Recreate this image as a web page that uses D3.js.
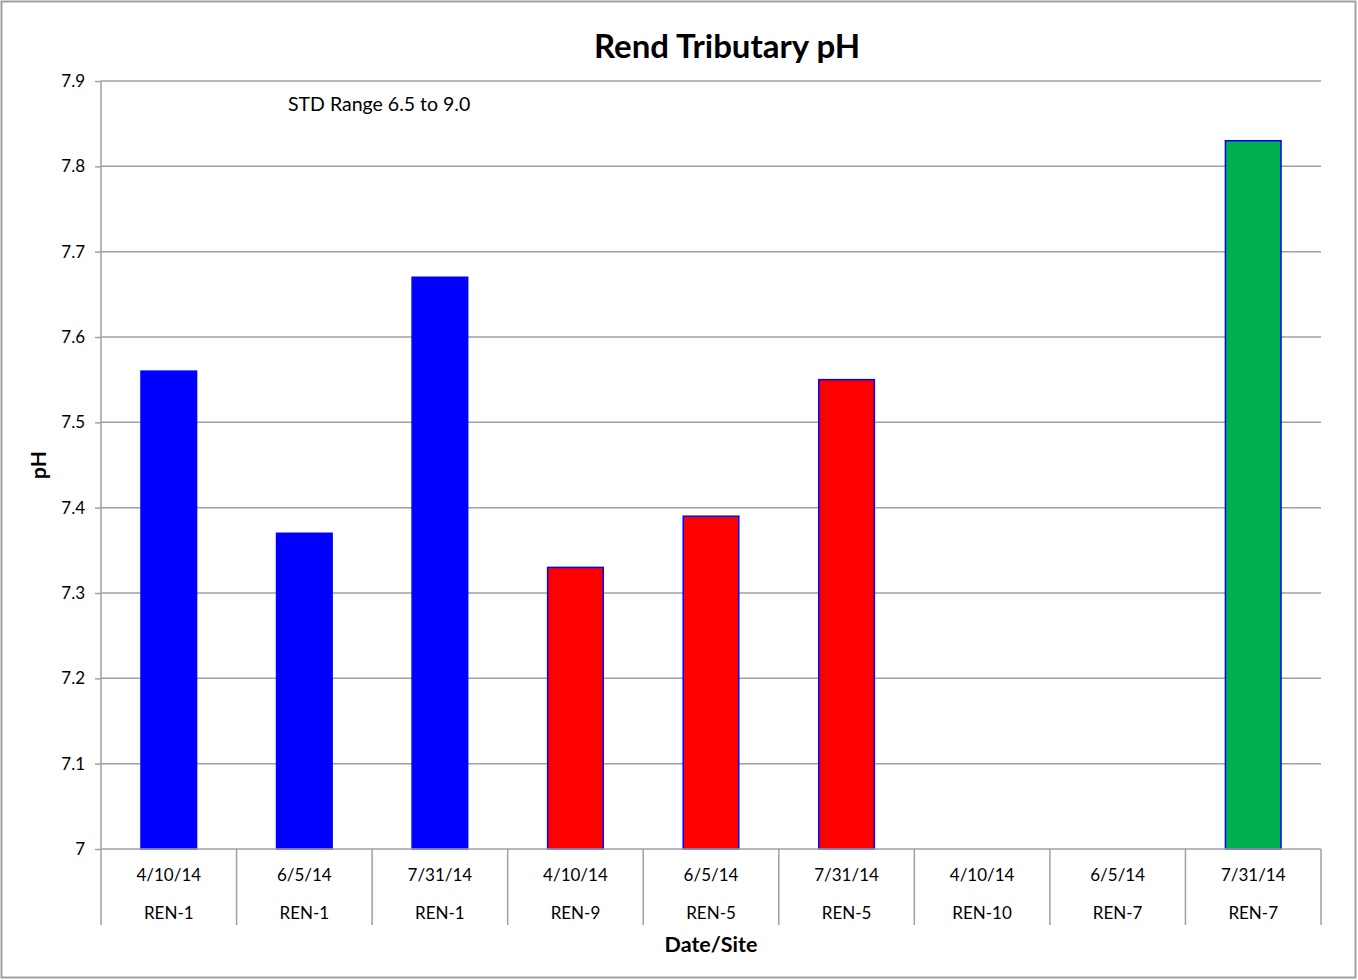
<!DOCTYPE html>
<html>
<head>
<meta charset="utf-8">
<script src="https://cdn.jsdelivr.net/npm/d3@7"></script>
<style>
  body { margin: 0; background: #fff; }
  text { font-family: Lato, "Open Sans", sans-serif; fill: #000; }
</style>
</head>
<body>
<div id="chart-area"></div>
<script>
const dates = ['4/10/14', '6/5/14', '7/31/14', '4/10/14', '6/5/14', '7/31/14', '4/10/14', '6/5/14', '7/31/14']
const sites = ['REN-1', 'REN-1', 'REN-1', 'REN-9', 'REN-5', 'REN-5', 'REN-10', 'REN-7', 'REN-7']
const phValues = [7.56, 7.37, 7.67, 7.33, 7.39, 7.55, null, null, 7.83]
const barColors = ['#0000ff', '#0000ff', '#0000ff', '#ff0000', '#ff0000', '#ff0000', '#00b050', '#00b050', '#00b050']
const yTicks = [7, 7.1, 7.2, 7.3, 7.4, 7.5, 7.6, 7.7, 7.8, 7.9]

const W = 1358, H = 980
const margin = { top: 81, left: 101, right: 37, bottom: 131 }
const width = W - margin.left - margin.right
const height = H - margin.top - margin.bottom

const svg = d3.select('#chart-area')
              .append('svg')
              .attr('width', W)
              .attr('height', H)

// outer frame
svg.append('rect')
   .attr('x', 1.5).attr('y', 1.5)
   .attr('width', W - 4).attr('height', H - 4)
   .attr('fill', 'none')
   .attr('stroke', '#a0a0a0')
   .attr('stroke-width', 2)

svg.append('text')
   .attr('x', 727)
   .attr('y', 58)
   .attr('text-anchor', 'middle')
   .attr('font-size', '33px')
   .attr('font-weight', 'bold')
   .text('Rend Tributary pH')

const g = svg.append('g')
             .attr('transform', 'translate(' + margin.left + ',' + margin.top + ')')

const idx = d3.range(phValues.length)

const x = d3.scaleBand()
            .domain(idx)
            .range([0, width])
            .paddingInner(0.59)
            .paddingOuter(0.295)

const xCat = d3.scaleBand()
               .domain(idx)
               .range([0, width])

const y = d3.scaleLinear()
            .domain([7, 7.9])
            .range([height, 0])

// gridlines
g.selectAll('.grid')
 .data(yTicks.slice(1))
 .enter()
 .append('line')
 .attr('x1', 0).attr('x2', width)
 .attr('y1', d => y(d)).attr('y2', d => y(d))
 .attr('stroke', '#a0a0a0')
 .attr('stroke-width', 1.5)

// y axis
const yAxisCall = d3.axisLeft(y)
                    .tickValues(yTicks)
                    .tickSize(6)
                    .tickPadding(10)
                    .tickFormat(d => d === 7 ? '7' : d3.format('.1f')(d))

const yAx = g.append('g')
             .attr('class', 'y-axis')
             .call(yAxisCall)
yAx.select('.domain').attr('stroke', '#a0a0a0').attr('stroke-width', 1.5)
   .attr('d', 'M0,' + height + 'V0')
yAx.selectAll('line').attr('stroke', '#a0a0a0').attr('stroke-width', 1.5)
yAx.selectAll('text').attr('font-size', '17px').attr('font-family', 'Lato, sans-serif')

// bars
g.selectAll('.bar')
 .data(idx.filter(i => phValues[i] !== null))
 .enter()
 .append('rect')
 .attr('x', i => x(i))
 .attr('y', i => y(phValues[i]))
 .attr('width', x.bandwidth())
 .attr('height', i => height - y(phValues[i]))
 .attr('fill', i => barColors[i])
 .attr('stroke', '#0000ff')
 .attr('stroke-width', 1.5)

// x axis line and category separators
g.append('line')
 .attr('x1', 0).attr('x2', width)
 .attr('y1', height).attr('y2', height)
 .attr('stroke', '#a0a0a0')
 .attr('stroke-width', 1.5)

g.selectAll('.sep')
 .data(d3.range(phValues.length + 1))
 .enter()
 .append('line')
 .attr('x1', i => i * xCat.step()).attr('x2', i => i * xCat.step())
 .attr('y1', height).attr('y2', height + 76)
 .attr('stroke', '#a0a0a0')
 .attr('stroke-width', 1.5)

g.selectAll('.date-label')
 .data(idx)
 .enter()
 .append('text')
 .attr('x', i => xCat(i) + xCat.bandwidth() / 2)
 .attr('y', height + 32)
 .attr('text-anchor', 'middle')
 .attr('font-size', '17px')
 .text(i => dates[i])

g.selectAll('.site-label')
 .data(idx)
 .enter()
 .append('text')
 .attr('x', i => xCat(i) + xCat.bandwidth() / 2)
 .attr('y', height + 70)
 .attr('text-anchor', 'middle')
 .attr('font-size', '17px')
 .text(i => sites[i])

svg.append('text')
   .attr('x', 711)
   .attr('y', 952)
   .attr('text-anchor', 'middle')
   .attr('font-size', '21.5px')
   .attr('font-weight', 'bold')
   .text('Date/Site')

svg.append('text')
   .attr('x', -465)
   .attr('y', 46)
   .attr('text-anchor', 'middle')
   .attr('font-size', '21px')
   .attr('font-weight', 'bold')
   .attr('transform', 'rotate(-90)')
   .text('pH')

svg.append('text')
   .attr('x', 288)
   .attr('y', 111)
   .attr('font-size', '19.5px')
   .text('STD Range 6.5 to 9.0')
</script>
</body>
</html>
